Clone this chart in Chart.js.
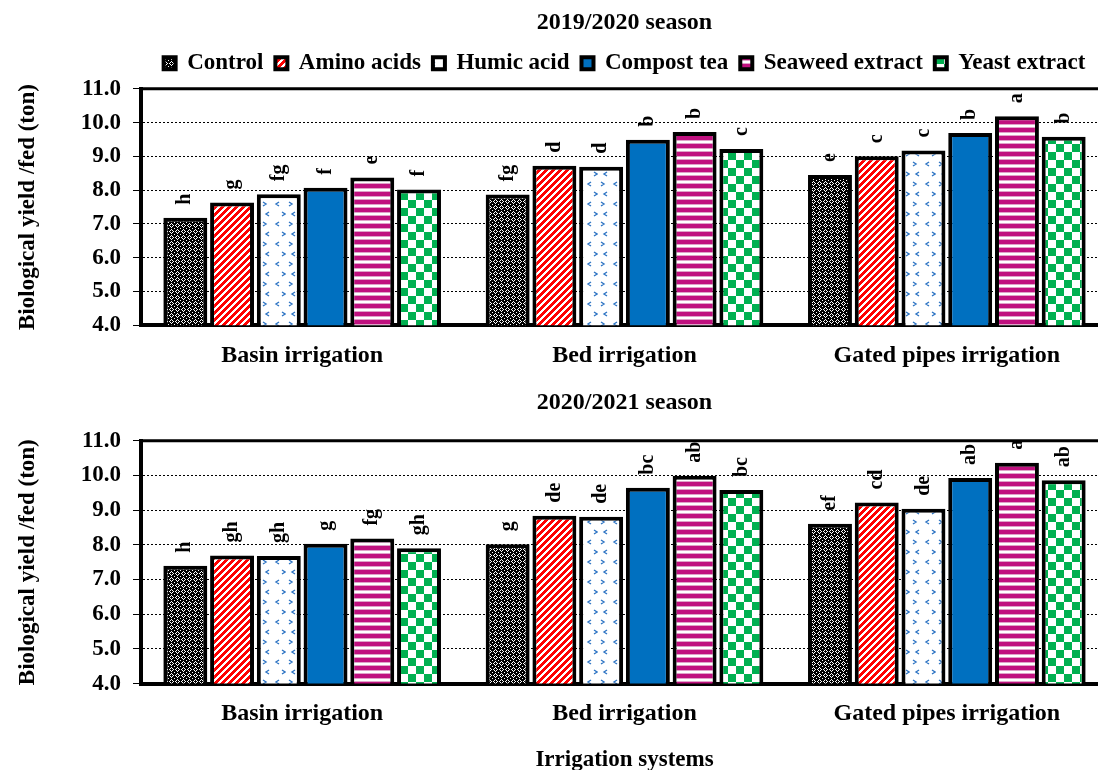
<!DOCTYPE html>
<html>
<head>
<meta charset="utf-8">
<script src="https://cdn.jsdelivr.net/npm/chart.js@4.4.0/dist/chart.umd.min.js"></script>
<style>
  html, body { margin: 0; padding: 0; background: #fff; overflow: hidden; }
  #wrap1 { position: absolute; left: 0; top: 0; width: 1108px; height: 386px; }
  #wrap2 { position: absolute; left: 0; top: 378px; width: 1108px; height: 398px; }
</style>
</head>
<body>
<div id="wrap1"><canvas id="chart1"></canvas></div>
<div id="wrap2"><canvas id="chart2"></canvas></div>
<script>
const categories = ['Basin irrigation', 'Bed irrigation', 'Gated pipes irrigation'];
const treatments = ['Control', 'Amino acids', 'Humic acid', 'Compost tea', 'Seaweed extract', 'Yeast extract'];
const yTicks = [4, 5, 6, 7, 8, 9, 10, 11];

// 2019/2020 season
const s1Control = [7.18, 7.87, 8.45];
const s1Amino = [7.63, 8.72, 9.00];
const s1Humic = [7.88, 8.69, 9.17];
const s1Compost = [8.07, 9.49, 9.69];
const s1Seaweed = [8.37, 9.72, 10.19];
const s1Yeast = [8.02, 9.22, 9.58];
const s1Letters = [
  ['h', 'fg', 'e'], ['g', 'd', 'c'], ['fg', 'd', 'c'],
  ['f', 'b', 'b'], ['e', 'b', 'a'], ['f', 'c', 'b']
];

// 2020/2021 season
const s2Control = [7.40, 8.02, 8.61];
const s2Amino = [7.69, 8.84, 9.22];
const s2Humic = [7.68, 8.81, 9.04];
const s2Compost = [8.03, 9.65, 9.93];
const s2Seaweed = [8.18, 9.99, 10.37];
const s2Yeast = [7.90, 9.58, 9.86];
const s2Letters = [
  ['h', 'g', 'ef'], ['gh', 'de', 'cd'], ['gh', 'de', 'de'],
  ['g', 'bc', 'ab'], ['fg', 'ab', 'a'], ['gh', 'bc', 'ab']
];

const FONT = '"Liberation Serif", "Times New Roman", serif';

// fill patterns for the bars
function tile(w, h, paint) {
  const c = document.createElement('canvas');
  c.width = w; c.height = h;
  const g = c.getContext('2d');
  paint(g);
  return g.createPattern(c, 'repeat');
}

const fills = [
  // Control: black with white lattice
  tile(6, 6, g => {
    g.fillStyle = '#000'; g.fillRect(0, 0, 6, 6);
    g.fillStyle = '#fff';
    [[3,1],[2,2],[4,2],[1,3],[5,3],[2,4],[4,4],[3,5],[0,0]].forEach(p => g.fillRect(p[0], p[1], 1, 1));
  }),
  // Amino acids: red wide upward diagonal
  tile(7, 7, g => {
    g.fillStyle = '#fff'; g.fillRect(0, 0, 7, 7);
    g.fillStyle = '#ff0000';
    for (let x = 0; x < 7; x++) for (let y = 0; y < 7; y++) if ((x + y) % 7 < 4) g.fillRect(x, y, 1, 1);
  }),
  // Humic acid: white with small blue chevrons
  tile(26, 20, g => {
    g.fillStyle = '#fff'; g.fillRect(0, 0, 26, 20);
    g.strokeStyle = '#2f75c4'; g.lineWidth = 1.4;
    g.beginPath();
    g.moveTo(3, 2); g.lineTo(6, 4); g.lineTo(3, 6);
    g.moveTo(19, 2); g.lineTo(16, 4); g.lineTo(19, 6);
    g.moveTo(9, 12); g.lineTo(6, 14); g.lineTo(9, 16);
    g.moveTo(22, 12); g.lineTo(25, 14); g.lineTo(22, 16);
    g.stroke();
  }),
  // Compost tea: solid blue
  '#0070c0',
  // Seaweed extract: magenta horizontal stripes
  tile(4, 8, g => {
    g.fillStyle = '#fff'; g.fillRect(0, 0, 4, 8);
    g.fillStyle = '#c0117f'; g.fillRect(0, 0, 4, 4);
    g.fillStyle = '#e0a2c9'; g.fillRect(0, 4, 4, 1); g.fillRect(0, 7, 4, 1);
  }),
  // Yeast extract: green checkerboard
  tile(16, 16, g => {
    g.fillStyle = '#fff'; g.fillRect(0, 0, 16, 16);
    g.fillStyle = '#00b050'; g.fillRect(0, 0, 8, 8); g.fillRect(8, 8, 8, 8);
  })
];

const letterPlugin = {
  id: 'letters',
  afterDatasetsDraw(chart) {
    const ctx = chart.ctx;
    ctx.save();
    ctx.font = 'bold 20px ' + FONT;
    ctx.fillStyle = '#000';
    ctx.textAlign = 'left';
    ctx.textBaseline = 'middle';
    chart.data.datasets.forEach((ds, i) => {
      chart.getDatasetMeta(i).data.forEach((bar, j) => {
        ctx.save();
        ctx.translate(bar.x, bar.y - 13);
        ctx.rotate(-Math.PI / 2);
        ctx.fillText(ds.letters[j], 0, 0);
        ctx.restore();
      });
    });
    ctx.restore();
  }
};

const topLinePlugin = {
  id: 'topLine',
  afterDraw(chart) {
    const a = chart.chartArea;
    const ctx = chart.ctx;
    ctx.save();
    ctx.strokeStyle = '#000';
    ctx.lineWidth = 3;
    ctx.beginPath();
    ctx.moveTo(a.left - 2, a.top);
    ctx.lineTo(a.right, a.top);
    ctx.stroke();
    ctx.restore();
  }
};

function makeChart(id, title, series, letters, opts) {
  const datasets = treatments.map((name, i) => ({
    label: name,
    data: series[i],
    letters: letters[i],
    backgroundColor: fills[i],
    borderColor: '#000',
    borderWidth: 4,
    borderSkipped: false,
    barPercentage: 0.94,
    categoryPercentage: 0.87
  }));
  return new Chart(document.getElementById(id), {
    type: 'bar',
    data: { labels: categories, datasets: datasets },
    plugins: [letterPlugin, topLinePlugin],
    options: {
      responsive: true,
      maintainAspectRatio: false,
      animation: false,
      layout: { padding: 0 },
      plugins: {
        title: {
          display: true,
          fullSize: false,
          text: title,
          color: '#000',
          font: { family: FONT, weight: 'bold', size: 24 },
          padding: opts.titlePadding
        },
        legend: {
          display: opts.legend,
          fullSize: false,
          labels: {
            color: '#000',
            font: { family: FONT, weight: 'bold', size: 23 },
            boxWidth: 12,
            boxHeight: 12,
            padding: 12
          }
        },
        tooltip: { enabled: false }
      },
      scales: {
        x: {
          grid: { display: false, drawTicks: false },
          border: { display: true, color: '#000', width: 4 },
          ticks: {
            color: '#000',
            font: { family: FONT, weight: 'bold', size: 24 },
            padding: 16,
            maxRotation: 0,
            autoSkip: false
          },
          title: {
            display: opts.xTitle,
            text: 'Irrigation systems',
            color: '#000',
            font: { family: FONT, weight: 'bold', size: 23 },
            padding: { top: 2, bottom: 2 }
          }
        },
        // empty strip between the legend and the plot
        gap: {
          type: 'category',
          position: 'top',
          grid: { display: false, drawTicks: false },
          border: { display: false },
          ticks: { display: false },
          afterFit: scale => { scale.height = opts.gap; }
        },
        y: {
          min: yTicks[0],
          max: yTicks[yTicks.length - 1],
          afterBuildTicks: scale => { scale.ticks = yTicks.map(v => ({ value: v })); },
          afterFit: scale => { scale.width = 141; },
          grid: { color: '#000', lineWidth: 1, tickLength: 8 },
          border: { display: true, color: '#000', width: 4, dash: [2, 2] },
          ticks: {
            color: '#000',
            font: { family: FONT, weight: 'bold', size: 23 },
            padding: 12,
            callback: v => Number(v).toFixed(1)
          },
          title: {
            display: true,
            text: 'Biological yield /fed (ton)',
            color: '#000',
            font: { family: FONT, weight: 'bold', size: 23 },
            padding: { top: 14, bottom: 0 }
          }
        }
      }
    }
  });
}

makeChart('chart1', '2019/2020 season',
  [s1Control, s1Amino, s1Humic, s1Compost, s1Seaweed, s1Yeast], s1Letters,
  { legend: true, xTitle: false, gap: 4, titlePadding: { top: 8, bottom: 3 } });

makeChart('chart2', '2020/2021 season',
  [s2Control, s2Amino, s2Humic, s2Compost, s2Seaweed, s2Yeast], s2Letters,
  { legend: false, xTitle: true, gap: 0, titlePadding: { top: 10, bottom: 24 } });
</script>
</body>
</html>
